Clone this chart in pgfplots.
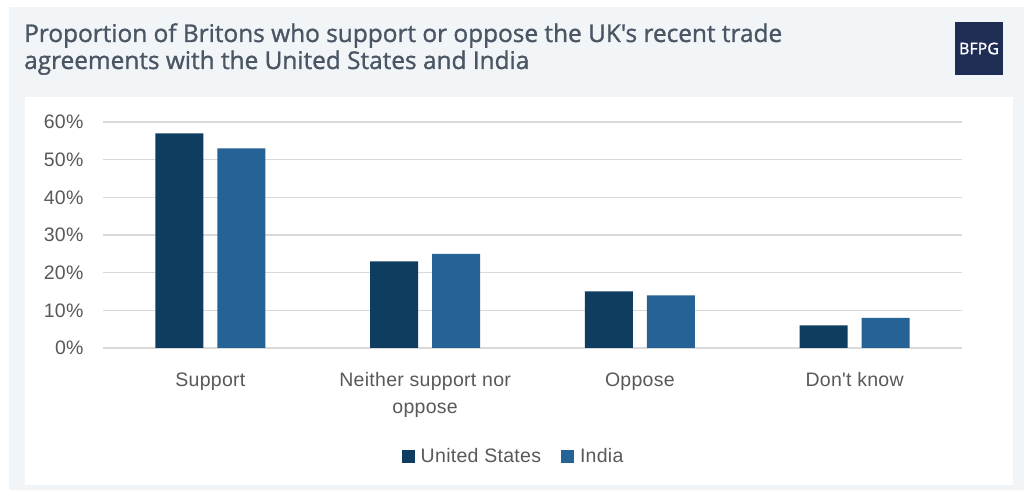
\documentclass[border=0pt]{standalone}
\usepackage{pgfplots}
\pgfplotsset{compat=1.18}
\usepackage{fontspec}
\setmainfont{Liberation Sans}[LetterSpace=1.5, Ligatures=TeXOff]
\newfontfamily\titlefont{Open Sans}[FakeBold=1.2, Ligatures=TeXOff]
\newfontfamily\logofont{Open Sans}[FakeBold=1.2]
\definecolor{uscol}{HTML}{0E3D5F}
\definecolor{incol}{HTML}{256295}
\definecolor{panel}{HTML}{F2F5F8}
\definecolor{logocol}{HTML}{1F2D54}
\definecolor{titlecol}{HTML}{4A5663}
\definecolor{labcol}{HTML}{595959}
\definecolor{gridcol}{HTML}{D9D9D9}
\begin{document}
\begin{tikzpicture}[x=1bp,y=1bp]
\fill[white] (0,0) rectangle (1024,490);
\fill[panel] (9,0) rectangle (1024,483);
\fill[white] (25,5) rectangle (1013,393);
\fill[logocol] (955,415) rectangle (1003,468);
\node[white, font=\logofont\fontsize{16bp}{18bp}\selectfont] at (979,441.5) {BFPG};
\node[anchor=base west, text=titlecol, font=\titlefont\fontsize{24.4bp}{27bp}\selectfont, inner sep=0] at (24,448) {Proportion of Britons who support or oppose the UK's recent trade};
\node[anchor=base west, text=titlecol, font=\titlefont\fontsize{24.4bp}{27bp}\selectfont, inner sep=0] at (24,421) {agreements with the United States and India};
\begin{axis}[
  at={(103bp,142bp)}, anchor=south west,
  scale only axis, width=859bp, height=226bp,
  xmin=-0.5, xmax=3.5, ymin=0, ymax=60,
  ybar=14bp, bar width=48bp,
  xtick={0,1,2,3},
  xticklabels={Support, {Neither support nor\\oppose}, Oppose, {Don't know}},
  ytick={0,10,...,60},
  yticklabel={\pgfmathprintnumber{\tick}\%},
  /pgf/number format/assume math mode=true,
  major tick length=0pt,
  axis line style={draw=none},
  ymajorgrids, grid style={draw=gridcol, line width=1.6bp},
  tick label style={font=\fontsize{19.5bp}{27bp}\selectfont, text=labcol},
  xticklabel style={align=center, yshift=-21bp},
  yticklabel style={xshift=-16bp},
  legend columns=2,
  legend style={at={(0.478,-0.478)}, anchor=center, draw=none, fill=none,
    font=\fontsize{19.5bp}{23bp}\selectfont, text=labcol,
    /tikz/every even column/.append style={column sep=18bp}},
  legend image code/.code={\path[#1] (0bp,-6.5bp) rectangle (13bp,6.5bp); \path (17bp,0bp);},
]
\addplot[fill=uscol, draw=none] coordinates {(0,57) (1,23) (2,15) (3,6)};
\addplot[fill=incol, draw=none] coordinates {(0,53) (1,25) (2,14) (3,8)};
\legend{United States, India}
\end{axis}
\end{tikzpicture}
\end{document}
